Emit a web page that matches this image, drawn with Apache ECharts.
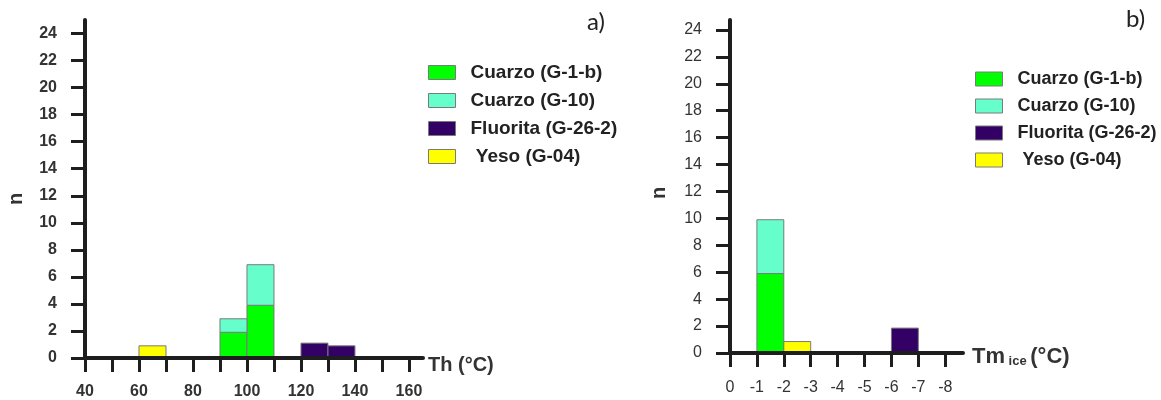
<!DOCTYPE html>
<html>
<head>
<meta charset="utf-8">
<script src="https://cdn.jsdelivr.net/npm/echarts@6/dist/echarts.min.js"></script>
<style>
html,body{margin:0;padding:0;background:#ffffff;}
#chart{width:1161px;height:400px;}
</style>
</head>
<body>
<div id="chart"></div>
<script>
// ---------- data ----------
const seriesNames = ['Cuarzo (G-1-b)', 'Cuarzo (G-10)', 'Fluorita (G-26-2)', 'Yeso (G-04)'];
const seriesColors = ['#00ff00', '#66ffcc', '#330066', '#ffff00'];

// panel a) : Th (°C), bins of 10 °C
const thBinStart = [60, 90, 100, 120, 130];
const thBinWidth = 10;
const thCuarzoG1b = [0, 1.9, 3.9, 0, 0];
const thCuarzoG10 = [0, 1.0, 3.0, 0, 0];
const thFluorita  = [0, 0, 0, 1.1, 0.9];
const thYeso      = [0.9, 0, 0, 0, 0];
const thTicks  = [40, 50, 60, 70, 80, 90, 100, 110, 120, 130, 140, 150, 160];
const thLabels = [40, 60, 80, 100, 120, 140, 160];

// panel b) : Tm ice (°C), bins of 1 °C
const tmBinStart = [-1, -2, -6];
const tmBinWidth = -1;
const tmCuarzoG1b = [5.9, 0, 0];
const tmCuarzoG10 = [4.0, 0, 0];
const tmFluorita  = [0, 0, 1.85];
const tmYeso      = [0, 0.85, 0];
const tmTicks = [0, -1, -2, -3, -4, -5, -6, -7, -8];

const nTicks = [0, 2, 4, 6, 8, 10, 12, 14, 16, 18, 20, 22, 24];

// ---------- build stacked rect data ----------
function buildStack(binStart, binWidth, seriesValues) {
  const base = binStart.map(() => 0);
  return seriesValues.map(vals => {
    const out = [];
    vals.forEach((v, i) => {
      if (v > 0) {
        out.push([binStart[i], binStart[i] + binWidth, base[i], base[i] + v]);
      }
      base[i] += v;
    });
    return out;
  });
}
const thData = buildStack(thBinStart, thBinWidth, [thCuarzoG1b, thCuarzoG10, thFluorita, thYeso]);
const tmData = buildStack(tmBinStart, tmBinWidth, [tmCuarzoG1b, tmCuarzoG10, tmFluorita, tmYeso]);

function renderItem(params, api) {
  const p0 = api.coord([api.value(0), api.value(2)]);
  const p1 = api.coord([api.value(1), api.value(3)]);
  return {
    type: 'rect',
    shape: {
      x: Math.min(p0[0], p1[0]),
      y: Math.min(p0[1], p1[1]),
      width: Math.abs(p1[0] - p0[0]),
      height: Math.abs(p1[1] - p0[1])
    },
    style: api.style({ stroke: '#7a7a7a', lineWidth: 1 })
  };
}

const FONT = 'Liberation Sans, Arial, sans-serif';
const axisColor = '#1e1e1e';

function yAxisCfg(gridIndex, max, bold) {
  return {
    type: 'value', gridIndex: gridIndex, min: 0, max: max, z: 5,
    splitLine: { show: false },
    axisLine: { show: true, lineStyle: { color: axisColor, width: 4 } },
    axisTick: { show: true, length: 14, customValues: nTicks, lineStyle: { color: axisColor, width: 3 } },
    axisLabel: { customValues: nTicks, margin: 28, fontFamily: FONT, fontSize: 16,
      fontWeight: bold ? 'bold' : 'normal', color: '#333' }
  };
}

const series = [];
seriesNames.forEach((name, k) => {
  series.push({
    type: 'custom', name: name, xAxisIndex: 0, yAxisIndex: 0,
    renderItem: renderItem, encode: { x: [0, 1], y: [2, 3] },
    itemStyle: { color: seriesColors[k] }, data: thData[k], z: 2
  });
  series.push({
    type: 'custom', name: name, xAxisIndex: 1, yAxisIndex: 1,
    renderItem: renderItem, encode: { x: [0, 1], y: [2, 3] },
    itemStyle: { color: seriesColors[k] }, data: tmData[k], z: 2
  });
});

function legendCfg(left, top, fontSize, gap) {
  return {
    left: left, top: top, padding: 0, itemGap: gap,
    orient: 'vertical', icon: 'rect', itemWidth: 27, itemHeight: 14,
    data: seriesNames,
    formatter: function (name) { return name.indexOf('Yeso') === 0 ? ' ' + name : name; },
    itemStyle: { borderColor: '#7a7a7a', borderWidth: 1 },
    textStyle: { fontFamily: FONT, fontSize: fontSize, fontWeight: 'bold', color: '#222',
      padding: [0, 0, 0, 10] },
    selectedMode: false
  };
}

const option = {
  backgroundColor: '#ffffff',
  animation: false,
  title: [
    { text: 'a)', left: 587, top: 10, padding: 0,
      textStyle: { fontFamily: 'Lato, Open Sans, sans-serif', fontSize: 24, fontWeight: 'normal', color: '#222' } },
    { text: 'b)', left: 1126, top: 7, padding: 0,
      textStyle: { fontFamily: 'Lato, Open Sans, sans-serif', fontSize: 24, fontWeight: 'normal', color: '#222' } }
  ],
  legend: [ legendCfg(428, 63, 19, 9), legendCfg(975, 70, 18, 9) ],
  grid: [
    { left: 85, top: 20, width: 338, height: 338 },
    { left: 730, top: 20, width: 233, height: 333 }
  ],
  xAxis: [
    {
      type: 'value', gridIndex: 0, min: 40, max: 165.2, z: 5,
      splitLine: { show: false },
      axisLine: { show: true, lineStyle: { color: axisColor, width: 4 } },
      axisTick: { show: true, length: 14, customValues: thTicks, lineStyle: { color: axisColor, width: 3 } },
      axisLabel: { customValues: thLabels, margin: 26, fontFamily: FONT, fontSize: 16, fontWeight: 'bold', color: '#333' },
      name: '{t|Th (°C)}', nameLocation: 'end', nameGap: 5,
      nameTextStyle: {
        align: 'left',
        padding: [10, 0, 0, 0],
        rich: {
          t: { fontFamily: FONT, fontSize: 20, fontWeight: 'bold', color: '#333', verticalAlign: 'bottom', lineHeight: 24 }
        }
      }
    },
    {
      type: 'value', gridIndex: 1, min: -8.66, max: 0, inverse: true, z: 5,
      splitLine: { show: false },
      axisLine: { show: true, lineStyle: { color: axisColor, width: 4 } },
      axisTick: { show: true, length: 14, customValues: tmTicks, lineStyle: { color: axisColor, width: 3 } },
      axisLabel: { customValues: tmTicks, margin: 27, fontFamily: FONT, fontSize: 16, color: '#333' },
      name: '{b|Tm}{s| ice }{b|(°C)}', nameLocation: 'start', nameGap: 9,
      nameTextStyle: {
        align: 'left',
        padding: [6, 0, 0, 0],
        rich: {
          b: { fontFamily: FONT, fontSize: 22, fontWeight: 'bold', color: '#333', verticalAlign: 'bottom', lineHeight: 24 },
          s: { fontFamily: FONT, fontSize: 13, fontWeight: 'bold', color: '#333', verticalAlign: 'bottom', lineHeight: 24 }
        }
      }
    }
  ],
  yAxis: [ yAxisCfg(0, 25, true), yAxisCfg(1, 24.74, false) ],
  graphic: [
    { type: 'text', x: 16, y: 199, rotation: Math.PI / 2,
      style: { text: 'n', font: 'bold 20px Liberation Sans', fill: '#333', textAlign: 'center', textVerticalAlign: 'middle' } },
    { type: 'text', x: 659, y: 193, rotation: Math.PI / 2,
      style: { text: 'n', font: 'bold 20px Liberation Sans', fill: '#333', textAlign: 'center', textVerticalAlign: 'middle' } }
  ],
  series: series
};

const chart = echarts.init(document.getElementById('chart'), null, { renderer: 'canvas' });
chart.setOption(option);
</script>
</body>
</html>
